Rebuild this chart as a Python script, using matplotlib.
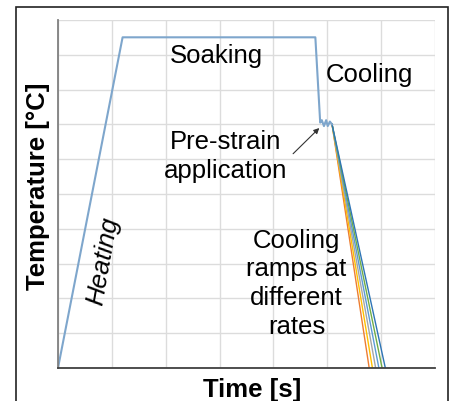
import numpy as np
import matplotlib.pyplot as plt
from matplotlib.patches import Rectangle

plt.rcParams["font.family"] = ["Liberation Sans", "DejaVu Sans"]

# main profile (time, temperature) in grid units
profile_t = [0.0, 1.2, 4.78, 4.87, 4.90, 4.94, 4.98, 5.01, 5.05, 5.09]
profile_T = [0.0, 9.5, 9.5, 7.05, 7.12, 6.95, 7.12, 6.95, 7.08, 7.0]

# cooling ramps: start at end of pre-strain, end at T=0
ramp_start = (5.09, 7.0)
ramp_end_t = [5.78, 5.84, 5.90, 5.96, 6.02, 6.08]
ramp_colors = ["#ED7D31", "#FFC000", "#A5A5A5", "#5B9BD5", "#70AD47", "#2E75B6"]

fig = plt.figure(figsize=(4.53, 4.02), dpi=100)
ax = fig.add_axes([0.128, 0.082, 0.832, 0.866])

for te, c in zip(ramp_end_t, ramp_colors):
    ax.plot([ramp_start[0], te], [ramp_start[1], 0], color=c, lw=1.0)
ax.plot(profile_t, profile_T, color="#7EA6CC", lw=1.5)

ax.set_xlim(0, 7)
ax.set_ylim(0, 10)
ax.set_xticks(np.arange(0, 8))
ax.set_yticks(np.arange(0, 11))
ax.grid(True, color="#DCDCDC", lw=1.0)
ax.tick_params(length=0, labelbottom=False, labelleft=False)
for s in ["top", "right"]:
    ax.spines[s].set_visible(False)
ax.spines["left"].set_color("#808080")
ax.spines["left"].set_linewidth(1.3)
ax.spines["bottom"].set_color("#404040")
ax.spines["bottom"].set_linewidth(1.3)

ax.set_xlabel("Time [s]", fontsize=18.5, fontweight="bold")
ax.set_ylabel("Temperature [°C]", fontsize=18.5, fontweight="bold")
ax.xaxis.set_label_coords(0.515, -0.026)
ax.yaxis.set_label_coords(-0.021, 0.526)

fs = 18.5
ax.text(2.95, 9.0, "Soaking", fontsize=fs, ha="center", va="center")
ax.text(5.78, 8.45, "Cooling", fontsize=fs, ha="center", va="center")
ax.text(3.12, 6.1, "Pre-strain\napplication", fontsize=fs, ha="center",
        va="center", linespacing=1.25)
ax.text(4.43, 2.45, "Cooling\nramps at\ndifferent\nrates", fontsize=fs,
        ha="center", va="center", linespacing=1.25)
ax.text(0.83, 3.1, "Heating", fontsize=fs, style="italic", rotation=80,
        ha="center", va="center")
ax.annotate("", xy=(4.89, 6.95), xytext=(4.33, 6.1),
            arrowprops=dict(arrowstyle="-|>", color="#333333", lw=0.8,
                            mutation_scale=8))

fig.patches.append(Rectangle((16 / 453, -0.1), 432 / 453, 1.1 - 8 / 402,
                             transform=fig.transFigure, fill=False,
                             edgecolor="#222222", lw=1.2))

fig.savefig("out.png", dpi=100)
